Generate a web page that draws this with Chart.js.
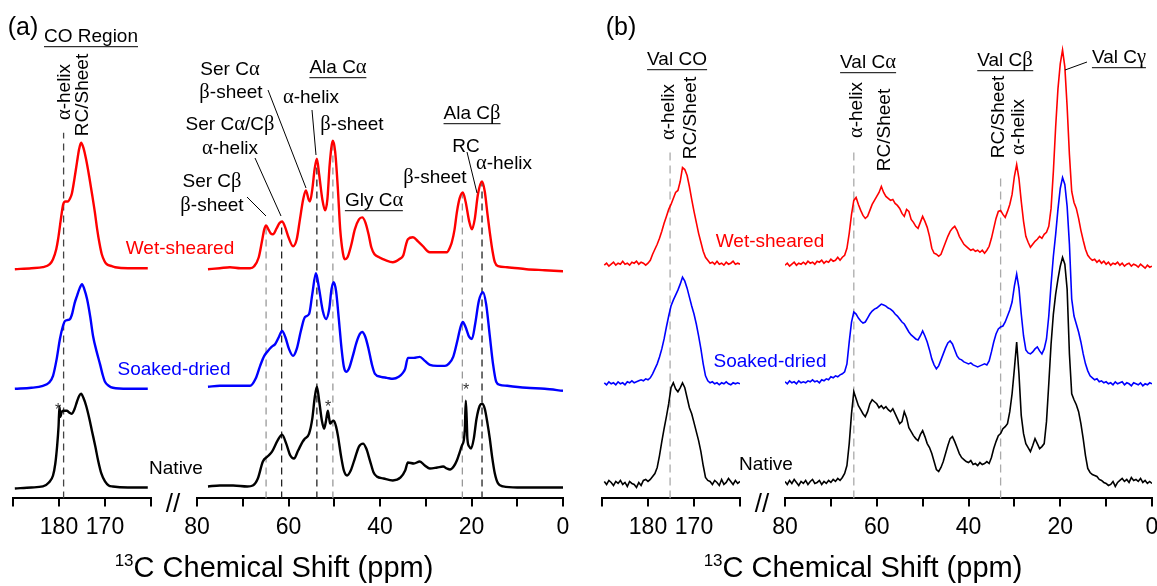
<!DOCTYPE html>
<html lang="en">
<head>
<meta charset="UTF-8">
<title>13C Chemical Shift spectra</title>
<script src="https://cdn.jsdelivr.net/npm/chart.js"></script>
<style>
  html, body { margin: 0; padding: 0; width: 1157px; height: 586px; overflow: hidden; background: #fff; }
  body { position: relative; font-family: Arial, "Liberation Sans", sans-serif; color: #000; }
  .box { position: absolute; top: 40px; height: 508px; }
  .t { position: absolute; transform: translate(-50%, -50%); white-space: nowrap; font-size: 19px; line-height: 1; }
  .v { position: absolute; transform: translate(-50%, -50%) rotate(-90deg); white-space: nowrap; font-size: 19px; line-height: 1; }
  .u { border-bottom: 1.5px solid #000; line-height: 0.98; }
  .g { font-family: "Liberation Serif", "DejaVu Serif", serif; font-size: 1.08em; }
  .star { font-size: 16px; color: #333; }
  .brk { font-size: 26px; }
  .title { font-size: 29px; }
  .title sup { font-size: 17px; vertical-align: 11px; line-height: 0; }
  svg { position: absolute; left: 0; top: 0; }
</style>
</head>
<body>
  <div class="box" style="left:-7px;width:178px"><canvas id="aL"></canvas></div>
  <div class="box" style="left:177px;width:406px"><canvas id="aR"></canvas></div>
  <div class="box" style="left:582px;width:178px"><canvas id="bL"></canvas></div>
  <div class="box" style="left:765px;width:407px"><canvas id="bR"></canvas></div>

  <svg width="1157" height="586">
    <g stroke="#000" stroke-width="1">
      <line x1="247" y1="197" x2="266" y2="216"/>
      <line x1="255" y1="158" x2="281" y2="216"/>
      <line x1="268" y1="90" x2="306" y2="188"/>
      <line x1="312" y1="110" x2="316" y2="155"/>
      <line x1="467" y1="152" x2="477" y2="193"/>
      <line x1="1087" y1="62" x2="1065" y2="70"/>
    </g>
  </svg>

  <!-- panel (a) text -->
  <div class="t" style="left:23px;top:26px;font-size:25px">(a)</div>
  <div class="t u" style="left:91px;top:37px">CO Region</div>
  <div class="v" style="left:63px;top:92px"><span class="g">α</span>-helix</div>
  <div class="v" style="left:81px;top:95px">RC/Sheet</div>
  <div class="t" style="left:230px;top:68px">Ser C<span class="g">α</span></div>
  <div class="t" style="left:231px;top:91px"><span class="g">β</span>-sheet</div>
  <div class="t" style="left:230px;top:123px">Ser C<span class="g">α</span>/C<span class="g">β</span></div>
  <div class="t" style="left:230px;top:147px"><span class="g">α</span>-helix</div>
  <div class="t" style="left:212px;top:180px">Ser C<span class="g">β</span></div>
  <div class="t" style="left:212px;top:204px"><span class="g">β</span>-sheet</div>
  <div class="t u" style="left:338px;top:67px">Ala C<span class="g">α</span></div>
  <div class="t" style="left:311px;top:96px"><span class="g">α</span>-helix</div>
  <div class="t" style="left:352px;top:123px"><span class="g">β</span>-sheet</div>
  <div class="t u" style="left:374px;top:200px">Gly C<span class="g">α</span></div>
  <div class="t u" style="left:472px;top:113px">Ala C<span class="g">β</span></div>
  <div class="t" style="left:466px;top:145px">RC</div>
  <div class="t" style="left:504px;top:162px"><span class="g">α</span>-helix</div>
  <div class="t" style="left:435px;top:176px"><span class="g">β</span>-sheet</div>
  <div class="t" style="left:180px;top:247px;color:#f00">Wet-sheared</div>
  <div class="t" style="left:174px;top:368px;color:#00f">Soaked-dried</div>
  <div class="t" style="left:176px;top:467px">Native</div>
  <div class="t star" style="left:58px;top:410px">*</div>
  <div class="t star" style="left:328px;top:407px">*</div>
  <div class="t star" style="left:466px;top:390px">*</div>
  <div class="t brk" style="left:173px;top:503px">//</div>
  <div class="t title" style="left:274px;top:567px"><sup>13</sup>C Chemical Shift (ppm)</div>

  <!-- panel (b) text -->
  <div class="t" style="left:621px;top:26px;font-size:25px">(b)</div>
  <div class="t u" style="left:677px;top:60px">Val CO</div>
  <div class="v" style="left:667px;top:112px"><span class="g">α</span>-helix</div>
  <div class="v" style="left:689px;top:118px">RC/Sheet</div>
  <div class="t u" style="left:868px;top:62px">Val C<span class="g">α</span></div>
  <div class="v" style="left:855px;top:110px"><span class="g">α</span>-helix</div>
  <div class="v" style="left:883px;top:130px">RC/Sheet</div>
  <div class="t u" style="left:1005px;top:60px">Val C<span class="g">β</span></div>
  <div class="v" style="left:997px;top:117px">RC/Sheet</div>
  <div class="v" style="left:1017px;top:127px"><span class="g">α</span>-helix</div>
  <div class="t u" style="left:1119px;top:57px">Val C<span class="g">γ</span></div>
  <div class="t" style="left:770px;top:240px;color:#f00">Wet-sheared</div>
  <div class="t" style="left:770px;top:360px;color:#00f">Soaked-dried</div>
  <div class="t" style="left:766px;top:463px">Native</div>
  <div class="t brk" style="left:762px;top:503px">//</div>
  <div class="t title" style="left:863px;top:567px"><sup>13</sup>C Chemical Shift (ppm)</div>

<script>
// ---- panel (a): [ppm, intensity] ----
const aRedCO = [[189.6,0],[186,1],[183.5,2],[182,5],[181.3,10],[180.6,20],[180.2,30],[179.6,50],[179.1,65],[178.6,68],[178.1,68],[177.6,71],[177.2,76],[176.6,92],[176.1,107],[175.6,121],[175.2,127],[174.7,122],[174.1,110],[173.4,92],[172.8,75],[172.2,57],[171.7,40],[171.2,26],[170.7,15],[170.1,8],[169.6,5],[168.5,3],[167.8,2],[165,1],[160.7,1]];
const aBlueCO = [[189.6,0],[186,1],[183.5,3],[182.2,6],[181.3,13],[180.5,30],[179.8,50],[179.2,62],[178.7,68],[178.1,69],[177.6,70],[177.1,76],[176.6,86],[176.1,93],[175.5,101],[175.0,105],[174.5,100],[173.9,90],[173.2,72],[172.6,53],[171.8,37],[171.1,25],[170.5,14],[170.0,7],[169.2,3],[168.3,1],[165,0],[160.7,0]];
const aBlackCO = [[189.6,0],[186,1],[183.5,2],[182.2,6],[181.3,13],[180.8,25],[180.4,43],[180.1,62],[179.9,82],[179.7,72],[179.4,77],[178.9,78],[178.3,78],[177.7,76],[177.2,75],[176.6,80],[176.1,87],[175.6,93],[175.2,95],[174.7,91],[174.1,83],[173.4,70],[172.8,57],[172.1,42],[171.5,28],[170.8,15],[170.0,7],[169.2,3],[168.3,2],[165,1],[160.7,1]];

const aRed = [[77.6,0],[75,1],[72.8,2],[70.5,1],[68.4,1],[67.5,3],[66.5,12],[65.8,28],[65.3,40],[64.9,44],[64.4,40],[63.9,36],[63.4,35],[62.6,41],[62.0,46],[61.4,48],[60.8,43],[60.0,32],[59.0,23],[58.2,30],[57.5,50],[56.8,70],[56.2,79],[55.6,70],[55.3,68],[54.8,80],[54.3,100],[53.8,111],[53.3,95],[52.6,70],[52.0,59],[51.5,70],[51.0,105],[50.3,129],[49.8,118],[49.2,80],[48.7,40],[48.1,16],[47.7,10],[47.1,12],[46.3,24],[45.5,40],[44.6,50],[43.9,52],[43.2,47],[42.5,35],[41.9,22],[41.2,15],[40.2,12],[38.8,9],[37.2,7],[35.8,10],[34.9,14],[34.3,25],[33.9,30],[32.8,32],[31.7,28],[30.6,23],[29.6,18],[29.1,17],[27,17],[25.4,17],[24.7,22],[24.3,27],[23.7,40],[23.2,57],[22.6,71],[21.9,77],[21.3,68],[20.5,48],[19.9,40],[19.3,50],[18.6,75],[17.7,88],[17.1,78],[16.5,55],[16.0,37],[15.4,18],[14.9,7],[14.2,3],[12.2,2],[8,0],[4,-1],[0,-2]];
const aBlue = [[77.6,2],[75,3],[71.3,3],[68.4,3],[67.2,10],[66.2,23],[65.3,33],[64.5,38],[63.7,42],[62.9,45],[62.1,52],[61.4,58],[60.7,52],[59.9,40],[59.0,33],[58.2,40],[57.3,58],[56.4,72],[55.5,75],[54.8,95],[54.0,116],[53.3,100],[52.5,78],[51.8,70],[51.1,80],[50.6,100],[50.1,107],[49.6,98],[49.0,70],[48.4,40],[47.9,22],[47.4,17],[46.8,20],[46.0,32],[45.1,47],[44.4,55],[43.9,57],[43.2,52],[42.5,40],[41.8,25],[41.1,15],[39.8,12],[38.5,11],[37.2,10],[35.9,12],[35,16],[34.5,20],[33.9,31],[32.6,31],[31.3,32],[30.2,28],[29.1,24],[27.5,23],[25.8,23],[25,25],[24.0,32],[23.0,50],[22.4,62],[21.9,67],[21.3,62],[20.5,52],[19.9,50],[19.2,65],[18.4,88],[17.5,97],[16.8,85],[16.0,53],[15.3,25],[14.6,7],[13.8,4],[12.2,3],[8,1],[4,0],[0,-2]];
const aBlack = [[77.6,2],[75,3],[72.1,3],[69,2],[67.8,3],[66.7,10],[65.6,27],[64.6,32],[63.6,37],[62.4,48],[61.4,54],[60.5,45],[59.6,33],[58.8,30],[57.9,38],[56.9,47],[56.4,50],[55.5,55],[54.8,70],[54.3,90],[53.8,102],[53.3,88],[52.7,68],[52.2,60],[51.8,68],[51.4,78],[51.1,70],[50.9,65],[50.5,67],[50.1,68],[49.6,62],[49.2,53],[48.5,32],[47.9,18],[47.2,13],[46.4,18],[45.5,30],[44.6,42],[43.7,45],[43.0,40],[42.2,28],[41.4,16],[40.7,12],[39.2,10],[37.2,8],[35.5,11],[34.5,18],[33.9,26],[32.6,25],[31.3,27],[30.2,23],[29.1,20],[27.5,21],[26.2,22],[25.4,20],[24.7,19],[23.9,22],[23.2,28],[22.6,36],[22.1,43],[21.7,48],[21.45,60],[21.25,88],[21.05,70],[20.9,50],[20.5,42],[20.1,40],[19.5,50],[18.9,70],[18.2,83],[17.7,85],[17.1,80],[16.5,65],[16.0,50],[15.5,32],[14.9,15],[14.2,5],[13.1,2],[10,1],[5,1],[0,1]];

// ---- panel (b): sampled every 0.5 ppm ----
// CO region, 189.5 -> 160
const bRedCO = [
  1,3,0,2,4,1,3,2,5,2,3,1,4,3,5,2,4,3,1,3,
  6,12,17,22,28,35,43,50,57,62,68,74,76,85,99,97,91,80,67,55,
  44,33,24,15,9,6,3,4,2,5,2,3,1,4,2,3,5,2,3,2];
const bBlueCO = [
  1,-1,2,0,1,-1,2,0,1,-1,2,1,3,1,2,3,4,3,5,4,
  6,10,15,20,27,35,45,57,68,78,84,89,94,100,107,103,96,87,78,70,
  60,48,35,20,8,3,1,2,0,1,-1,1,0,2,0,-1,1,0,1,0];
const bBlackCO = [
  2,-1,3,1,-2,2,0,3,-1,1,-3,2,0,-1,-4,1,-2,3,4,2,
  4,7,10,16,28,42,55,67,80,96,101,95,92,96,101,96,86,76,70,61,
  52,43,32,18,6,3,2,-1,3,1,-2,4,-1,1,5,2,-1,3,0,2];
// aliphatic region, 80 -> 0
const bRed = [
  1,3,0,2,4,1,3,2,4,2,5,3,4,2,5,4,6,3,5,4,
  7,5,6,9,6,9,11,18,33,52,66,69,62,56,51,48,50,56,62,66,
  70,74,80,74,70,68,66,67,63,61,58,53,50,57,55,47,44,40,38,44,
  50,45,39,30,18,13,12,10,12,18,24,30,35,38,40,36,30,26,22,20,
  18,16,17,15,16,14,16,13,16,20,28,38,48,55,56,52,49,55,62,72,
  90,102,88,65,45,30,24,19,22,25,27,30,28,32,34,40,58,95,140,178,
  203,217,200,160,112,75,64,58,48,36,26,17,11,8,6,7,4,6,3,5,
  2,4,1,3,2,4,1,3,0,2,3,0,2,1,-1,2,0,-2,1,-1,
  0];
const bBlue = [
  2,0,3,1,2,0,3,1,2,1,3,2,4,2,3,1,4,3,5,4,
  7,6,8,7,9,10,12,20,42,62,72,70,66,63,61,62,66,70,73,75,
  76,78,80,79,78,76,75,73,70,68,65,62,60,56,52,49,47,45,44,48,
  53,48,42,34,25,19,15,18,24,30,36,41,43,40,34,28,25,24,22,21,
  20,21,19,18,17,18,19,20,19,23,32,42,50,55,57,58,62,68,74,82,
  98,110,96,70,48,34,31,30,32,35,37,33,30,35,45,68,100,128,150,175,
  196,207,200,178,140,85,68,60,52,42,30,20,13,8,6,4,5,2,3,1,
  2,0,1,-1,2,0,1,2,-1,1,0,-2,1,0,-1,1,-2,0,-1,1,
  0];
const bBlack = [
  2,-1,3,0,4,1,-2,2,0,3,-1,2,4,0,1,3,-1,2,0,3,
  1,4,2,5,3,6,10,18,40,70,92,85,78,74,70,67,72,80,84,82,
  80,76,78,75,77,74,72,75,70,65,60,62,72,66,56,52,48,45,43,49,
  53,47,40,36,30,22,14,12,16,22,30,38,45,47,42,36,30,26,24,22,
  21,23,19,20,18,21,19,20,22,20,26,35,42,48,50,55,57,60,72,90,
  115,142,110,68,50,40,36,32,38,45,40,35,37,40,62,100,140,170,190,205,
  218,227,220,195,130,90,84,79,72,60,45,28,15,11,9,8,7,4,3,1,
  0,-2,-1,2,-3,1,3,5,2,4,1,6,3,4,2,5,1,3,0,2,
  0];

// assignment markers (ppm)
const aDashPpm = [179, 64.9, 61.5, 53.8, 50.3, 22, 17.7];
const bDashPpm = [175.2, 65, 33];

// stacking offsets and looks
const aOff = { red: 230, blue: 110, black: 10 };
const bOff = { red: 233, blue: 115, black: 15 };
const aDashTop = [367, 274, 278, 340, 359, 307, 317];
const aDashColor = ['#444', '#999', '#222', '#222', '#999', '#999', '#222'];
const bDashTop = [350, 350, 322];
const RED = '#ff0000', BLUE = '#0000ff', BLACK = '#000000';

Chart.defaults.font.family = 'Arial, "Liberation Sans", sans-serif';

function pairs(arr, off) { return arr.map(p => ({ x: p[0], y: p[1] + off })); }
function sampled(vals, start, off) { return vals.map((v, i) => ({ x: start - i * 0.5, y: v + off })); }

function trace(data, color, width, smooth) {
  return {
    data: data, borderColor: color, borderWidth: width, pointRadius: 0, fill: false,
    tension: smooth ? 0.4 : 0, cubicInterpolationMode: smooth ? 'monotone' : 'default'
  };
}
function dash(ppm, top, color, pattern) {
  return {
    data: [{ x: ppm, y: 0 }, { x: ppm, y: top }], borderColor: color, borderWidth: 1.3,
    borderDash: pattern, pointRadius: 0, fill: false
  };
}

function draw(id, min, max, shown, datasets) {
  new Chart(document.getElementById(id), {
    type: 'line',
    data: { datasets: datasets },
    options: {
      responsive: true,
      maintainAspectRatio: false,
      animation: false,
      events: [],
      layout: { padding: { left: 20, right: 20, top: 0, bottom: 0 } },
      plugins: { legend: { display: false }, tooltip: { enabled: false } },
      scales: {
        x: {
          type: 'linear', reverse: true, min: min, max: max,
          ticks: {
            stepSize: 10, autoSkip: false, maxRotation: 0, padding: 7, color: '#000',
            font: { size: 23 },
            callback: v => shown.includes(v) ? String(v) : ''
          },
          grid: { drawOnChartArea: false, drawTicks: true, tickLength: 8, color: '#000', lineWidth: 2 },
          border: { display: true, color: '#000', width: 2 }
        },
        y: { display: false, min: 0, max: 460 }
      }
    }
  });
}

// panel (a)
draw('aL', 160, 190, [180, 170], [
  trace(pairs(aRedCO, aOff.red), RED, 2.4, true),
  trace(pairs(aBlueCO, aOff.blue), BLUE, 2.4, true),
  trace(pairs(aBlackCO, aOff.black), BLACK, 2.4, true),
  dash(aDashPpm[0], aDashTop[0], aDashColor[0], [7, 5])
]);
draw('aR', 0, 80, [80, 60, 40, 20, 0], [
  trace(pairs(aRed, aOff.red), RED, 2.4, true),
  trace(pairs(aBlue, aOff.blue), BLUE, 2.4, true),
  trace(pairs(aBlack, aOff.black), BLACK, 2.4, true)
].concat(aDashPpm.slice(1).map((p, i) => dash(p, aDashTop[i + 1], aDashColor[i + 1], [7, 5]))));

// panel (b)
draw('bL', 160, 190, [180, 170], [
  trace(sampled(bRedCO, 189.5, bOff.red), RED, 1.6, false),
  trace(sampled(bBlueCO, 189.5, bOff.blue), BLUE, 1.6, false),
  trace(sampled(bBlackCO, 189.5, bOff.black), BLACK, 1.6, false),
  dash(bDashPpm[0], bDashTop[0], '#aaa', [8, 5])
]);
draw('bR', 0, 80, [80, 60, 40, 20, 0], [
  trace(sampled(bRed, 80, bOff.red), RED, 1.6, false),
  trace(sampled(bBlue, 80, bOff.blue), BLUE, 1.6, false),
  trace(sampled(bBlack, 80, bOff.black), BLACK, 1.6, false),
  dash(bDashPpm[1], bDashTop[1], '#aaa', [8, 5]),
  dash(bDashPpm[2], bDashTop[2], '#aaa', [8, 5])
]);
</script>
</body>
</html>
